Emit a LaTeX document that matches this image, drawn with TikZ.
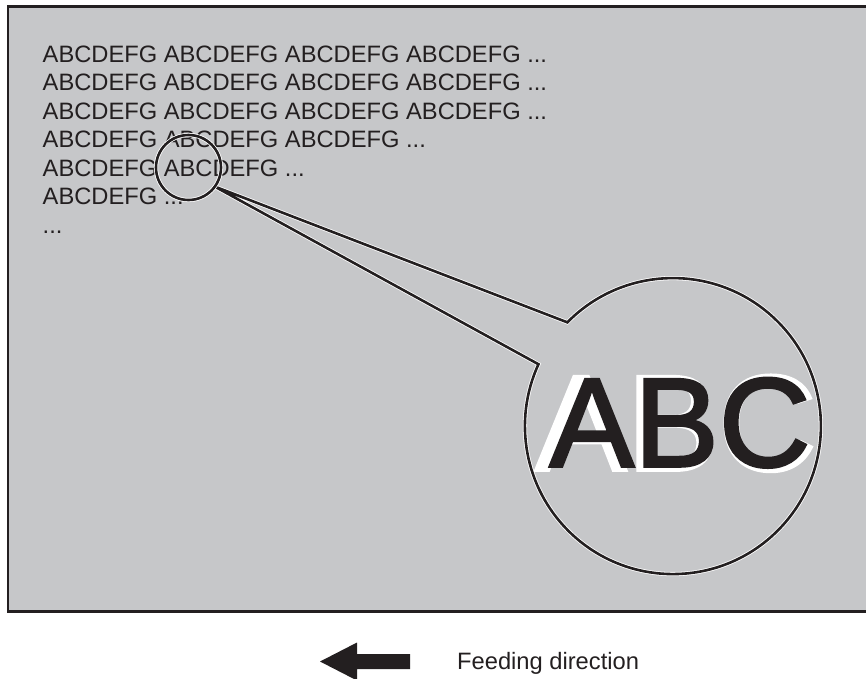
\documentclass[tikz,border=0pt]{standalone}
\usepackage{fontspec}
\setmainfont{Liberation Sans}
\newfontfamily\heavyfont[FakeBold=2]{Liberation Sans}
\definecolor{ink}{HTML}{231F20}
\definecolor{plate}{HTML}{C6C7C9}

\begin{document}
\begin{tikzpicture}[x=1pt, y=-1pt,
    row/.style={anchor=base west, inner sep=0pt, text=ink, font=\fontsize{23.7}{28}\selectfont},
    rim/.style={draw=white, double=ink, line width=0.8pt, double distance=2.6pt},
    ring/.style={circle, inner sep=0pt, outer sep=0pt, minimum size=#1}]
  \useasboundingbox (0,0) rectangle (866,678);
  \filldraw[fill=plate, draw=ink, line width=2.7pt] (8,6.5) rectangle (872,611.3);
  % printed lines
  \node[row] (l1) at (42.5,62) {ABCDEFG ABCDEFG ABCDEFG ABCDEFG ...};
  \node[row] (l2) at (42.5,90.5) {ABCDEFG ABCDEFG ABCDEFG ABCDEFG ...};
  \node[row] (l3) at (42.5,119) {ABCDEFG ABCDEFG ABCDEFG ABCDEFG ...};
  \node[row] (l4) at (42.5,147.5) {ABCDEFG ABCDEFG ABCDEFG ...};
  \node[row] (l5) at (42.5,176) {ABCDEFG ABCDEFG ...};
  \node[row] (l6) at (42.5,204.5) {ABCDEFG ...};
  \node[row] (l7) at (42.5,233) {...};
  % enlarged letters, white halo first
  \node[anchor=base, inner sep=0pt, text=white, font=\heavyfont\fontsize{137}{140}\selectfont] (bigw) at (676,470.5) {ABC};
  \node[anchor=base, inner sep=0pt, text=ink, font=\heavyfont\fontsize{127}{130}\selectfont] (big) at (680,466.5) {ABC};
  % magnifier
  \node[ring=296pt] (lens) at (672,427) {};
  \node[ring=65pt] (spot) at (188.5,167.5) {};
  \draw[rim] (spot.-36) -- (lens.135.5) arc[start angle=135.5, end angle=-204.7, radius=148pt] -- cycle;
  \draw[rim] (spot) circle[radius=32.5pt];
  % feeding direction
  \fill[ink] (320,661.5) -- (357,642.5) -- (357,654) -- (410,654) -- (410,669) -- (357,669) -- (357,680.5) -- cycle;
  \node[row] (feed) at (457,669) {Feeding direction};
\end{tikzpicture}
\end{document}
